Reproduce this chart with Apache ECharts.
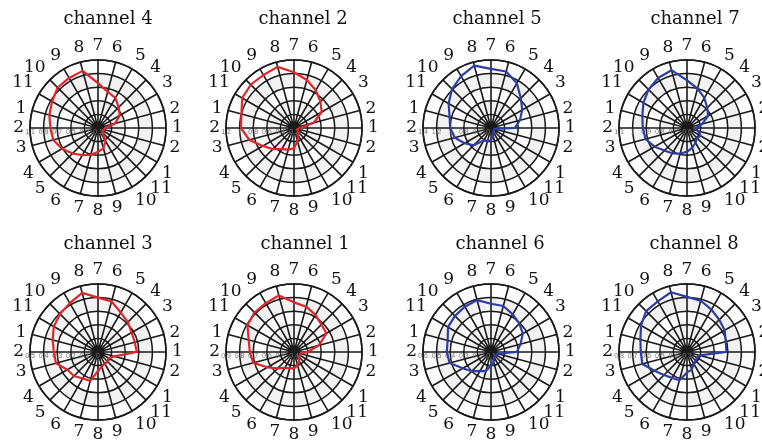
<!DOCTYPE html>
<html><head><meta charset="utf-8">
<script src="https://cdn.jsdelivr.net/npm/echarts@6/dist/echarts.min.js"></script>
<style>html,body{margin:0;padding:0;background:#fff}#c{width:762px;height:445px}</style>
</head><body><div id="c"></div>
<script>
// Angular tick labels, clockwise starting from the left (9 o'clock) spoke
const angleLabels = ["2","1","11","10","9","8","7","6","5","4","3","2","1","2","1","11","10","9","8","7","6","5","4","3"];

const channelTitles = ["channel 4","channel 2","channel 5","channel 7","channel 3","channel 1","channel 6","channel 8"];

// radial values for each of the 24 spokes (same clockwise order as angleLabels)
const ch4 = [0.80,0.84,0.88,0.94,0.95,0.97,0.76,0.65,0.61,0.53,0.47,0.36,0.21,0.19,0.18,0.20,0.32,0.41,0.45,0.51,0.56,0.63,0.71,0.78];
const ch2 = [0.98,1.00,1.08,1.10,1.10,1.13,1.02,0.93,0.84,0.75,0.67,0.50,0.29,0.25,0.25,0.28,0.32,0.40,0.50,0.53,0.56,0.64,0.73,0.88];
const ch5 = [1.00,1.03,1.12,1.21,1.28,1.35,1.27,1.26,1.16,1.02,0.93,0.84,0.75,0.45,0.45,0.46,0.48,0.52,0.58,0.60,0.61,0.76,0.85,0.95];
const ch7 = [0.925,0.94,0.97,1.00,1.025,1.04,0.95,0.90,0.855,0.81,0.78,0.715,0.665,0.685,0.715,0.705,0.725,0.75,0.775,0.795,0.815,0.835,0.875,0.915];
const ch3 = [0.325,0.345,0.375,0.395,0.415,0.45,0.40,0.385,0.335,0.31,0.285,0.28,0.285,0.125,0.09,0.10,0.10,0.11,0.14,0.22,0.225,0.25,0.26,0.32];
const ch1 = [0.725,0.745,0.795,0.81,0.815,0.83,0.765,0.745,0.715,0.685,0.675,0.59,0.50,0.45,0.44,0.45,0.475,0.50,0.52,0.525,0.535,0.57,0.625,0.71];
const ch6 = [0.425,0.43,0.465,0.475,0.485,0.495,0.455,0.45,0.42,0.395,0.37,0.325,0.29,0.15,0.15,0.14,0.15,0.175,0.20,0.245,0.26,0.30,0.34,0.415];
const ch8 = [0.64,0.655,0.69,0.725,0.73,0.755,0.705,0.69,0.66,0.635,0.62,0.595,0.59,0.395,0.385,0.39,0.40,0.435,0.45,0.515,0.52,0.54,0.575,0.64];

// radial axis ranges (min, max, step) per panel
const radialMin  = [0.1, 0.2, 0.4, 0.6, 0.0, 0.4, 0.1, 0.3];
const radialMax  = [1.1, 1.2, 1.4, 1.1, 0.5, 0.9, 0.6, 0.8];
const radialStep = [0.2, 0.2, 0.2, 0.1, 0.1, 0.1, 0.1, 0.1];

const panelValues = [ch4, ch2, ch5, ch7, ch3, ch1, ch6, ch8];
const panelColors = ["#e0262b","#e0262b","#2c3ca8","#2c3ca8","#e0262b","#e0262b","#2c3ca8","#2c3ca8"];

// layout
const colX = [98, 294, 491, 687];
const rowY = [128, 352];
const titleX = [103, 298, 492, 690, 103, 300, 495, 689];
const titleTop = [5, 230];
const R = 68;

const chart = echarts.init(document.getElementById('c'), null, {renderer: 'canvas'});
const gridColor = '#1a1a1a';
const option = {
  animation: false,
  backgroundColor: '#ffffff',
  title: [], polar: [], angleAxis: [], radiusAxis: [], series: []
};
for (let i = 0; i < 8; i++) {
  const cx = colX[i % 4], cy = rowY[Math.floor(i / 4)];
  option.title.push({
    text: channelTitles[i], left: titleX[i], top: titleTop[Math.floor(i / 4)], textAlign: 'center',
    textStyle: {fontFamily: 'DejaVu Serif', fontSize: 18, fontWeight: 'normal', color: '#111'}
  });
  option.polar.push({center: [cx, cy], radius: R});
  option.angleAxis.push({
    polarIndex: i, type: 'value', min: 0, max: 360, interval: 15,
    startAngle: 180, clockwise: true,
    axisLine: {show: true, lineStyle: {color: gridColor, width: 1.6}},
    axisTick: {show: false},
    axisLabel: {
      show: true, margin: 6, color: '#111', fontFamily: 'DejaVu Serif', fontSize: 17,
      formatter: function (v) { return angleLabels[Math.round(v / 15) % 24]; }
    },
    splitLine: {show: true, lineStyle: {color: gridColor, width: 1.6}}
  });
  option.radiusAxis.push({
    polarIndex: i, type: 'value', min: radialMin[i], max: radialMax[i], interval: radialStep[i],
    axisLine: {show: false}, axisTick: {show: false},
    axisLabel: {show: true, fontSize: 7, color: '#777', margin: 1,
      formatter: function (v) { return +v.toFixed(2) + ''; }},
    splitLine: {show: true, lineStyle: {color: gridColor, width: 1.5}},
    splitArea: {show: true, areaStyle: {color: ['rgba(0,0,0,0)', 'rgba(0,0,0,0.05)']}}
  });
  const vals = panelValues[i];
  const data = vals.map(function (v, k) { return [v, k * 15]; });
  data.push([vals[0], 360]);
  option.series.push({
    type: 'line', coordinateSystem: 'polar', polarIndex: i, data: data,
    symbol: 'none', silent: true, clip: false,
    lineStyle: {color: panelColors[i], width: 2.2}
  });
}
chart.setOption(option);
</script>
</body></html>
